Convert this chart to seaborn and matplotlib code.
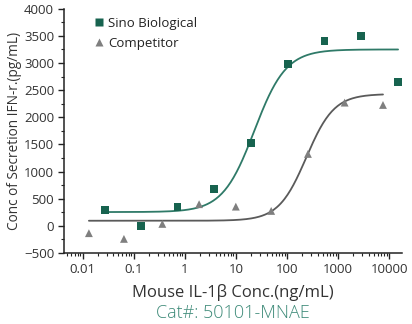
import numpy as np
import pandas as pd
import matplotlib
matplotlib.use("Agg")
import matplotlib.pyplot as plt
import seaborn as sns
from matplotlib.ticker import LogLocator, FixedLocator, MultipleLocator, FuncFormatter

# Measured responses (IFN-r secretion) for each IL-1β concentration
sino_conc = [0.028, 0.137, 0.72, 3.75, 19.9, 105, 546, 2860, 15000]
sino_resp = [295, 5, 355, 681, 1534, 2978, 3412, 3505, 2652]

comp_conc = [0.0133, 0.0645, 0.364, 1.91, 10.0, 49.2, 258, 1350, 7600]
comp_resp = [-134, -239, 37, 400, 355, 276, 1326, 2271, 2228]

series_names = ["Sino Biological", "Competitor"]

# Four-parameter logistic fit parameters: bottom, top, EC50, Hill slope
sino_fit = (255, 3250, 23.0, 1.4)
comp_fit = (95, 2430, 240.0, 1.6)

x_ticks = [0.01, 0.1, 1, 10, 100, 1000, 10000]
x_tick_labels = ["0.01", "0.1", "1", "10", "100", "1000", "10000"]
y_ticks = [-500, 0, 500, 1000, 1500, 2000, 2500, 3000, 3500, 4000]

TEAL = "#17634f"
TEAL_LINE = "#2f7a68"
GREY = "#7f7f7f"
GREY_LINE = "#5a5a5a"


def four_pl(x, bottom, top, ec50, hill):
    return bottom + (top - bottom) / (1.0 + (ec50 / x) ** hill)


points = pd.DataFrame({
    "conc": sino_conc + comp_conc,
    "resp": sino_resp + comp_resp,
    "group": [series_names[0]] * len(sino_conc) + [series_names[1]] * len(comp_conc),
})

curves = []
for name, conc, fit in [(series_names[0], sino_conc, sino_fit),
                        (series_names[1], comp_conc, comp_fit)]:
    xs = np.logspace(np.log10(min(conc)), np.log10(max(conc)), 300)
    curves.append(pd.DataFrame({"conc": xs, "resp": four_pl(xs, *fit), "group": name}))
curves = pd.concat(curves, ignore_index=True)

sns.set_theme(style="ticks")
plt.rcParams["font.family"] = ["Open Sans", "DejaVu Sans"]

fig = plt.figure(figsize=(4.12, 3.24), dpi=100)
ax = fig.add_axes([0.155, 0.219, 0.821, 0.754])

palette_pts = {series_names[0]: TEAL, series_names[1]: GREY}
palette_lines = {series_names[0]: TEAL_LINE, series_names[1]: GREY_LINE}

sns.lineplot(data=curves, x="conc", y="resp", hue="group", palette=palette_lines,
             linewidth=1.3, legend=False, ax=ax, sort=True, estimator=None)
sns.scatterplot(data=points, x="conc", y="resp", hue="group", style="group",
                markers={series_names[0]: "s", series_names[1]: "^"},
                palette=palette_pts, s=32, edgecolor="none", ax=ax, zorder=3)

ax.set_xscale("log")
ax.set_xlim(0.0043, 18000)
ax.set_ylim(-500, 4000)

ax.xaxis.set_major_locator(FixedLocator(x_ticks))
ax.xaxis.set_major_formatter(FuncFormatter(lambda v, p: x_tick_labels[x_ticks.index(v)] if v in x_ticks else ""))
ax.xaxis.set_minor_locator(LogLocator(base=10, subs=np.arange(2, 10), numticks=20))
ax.yaxis.set_major_locator(FixedLocator(y_ticks))
ax.yaxis.set_minor_locator(MultipleLocator(250))

ax.tick_params(axis="both", which="major", length=4, width=1.0, color="#222222",
               labelsize=9.5, labelcolor="#333333", pad=3)
ax.tick_params(axis="both", which="minor", length=2.5, width=0.8, color="#222222")

for side in ["top", "right"]:
    ax.spines[side].set_visible(False)
for side in ["left", "bottom"]:
    ax.spines[side].set_linewidth(1.1)
    ax.spines[side].set_color("#222222")

ax.set_xlabel("Mouse IL-1β Conc.(ng/mL)", fontsize=12, color="#333333", labelpad=6)
ax.set_ylabel("Conc of Secretion IFN-r.(pg/mL)", fontsize=9.8, color="#333333", labelpad=1)

leg = ax.legend(loc="upper left", bbox_to_anchor=(0.06, 1.0), frameon=False,
                fontsize=9.5, handletextpad=0.2, borderaxespad=0.2,
                labelspacing=0.55, handlelength=1.0)
for t in leg.get_texts():
    t.set_color("#222222")

fig.text(0.566, 0.035, "Cat#: 50101-MNAE", ha="center", va="center",
         fontsize=13, fontweight="light", color="#3d8a78")

fig.savefig("out.png", dpi=100)
